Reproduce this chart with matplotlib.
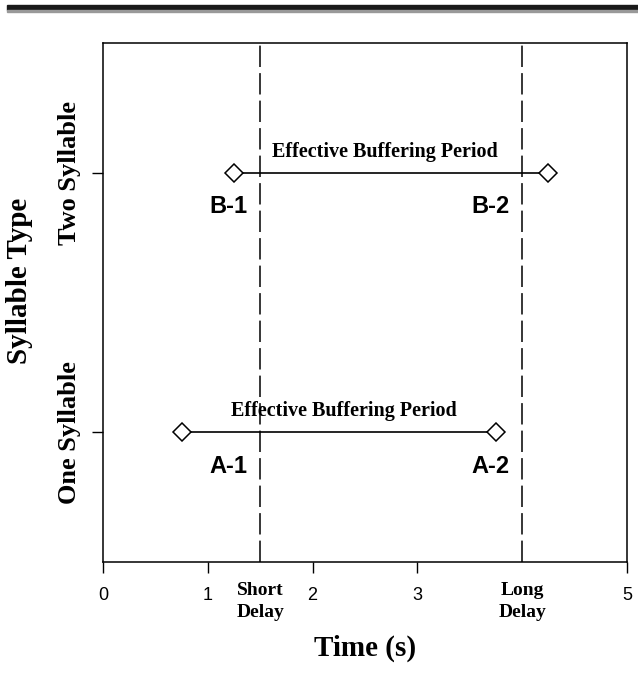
import matplotlib
matplotlib.use("Agg")
import matplotlib.pyplot as plt
from matplotlib.patches import Rectangle

# data
syllable_types = ["One Syllable", "Two Syllable"]
type_pos = [1, 2]
start_times = [0.75, 1.25]   # A-1, B-1
end_times = [3.75, 4.25]     # A-2, B-2
start_labels = ["A-1", "B-1"]
end_labels = ["A-2", "B-2"]
delay_times = [1.5, 4.0]
delay_labels = ["Short\nDelay", "Long\nDelay"]
x_ticks = [0, 1, 2, 3, 5]

serif = "Liberation Serif"
sans = "Liberation Sans"

fig = plt.figure(figsize=(6.38, 6.81), dpi=100)
ax = fig.add_axes([103 / 638, 1 - 562 / 681, 524 / 638, 519 / 681])

# header bar at the top of the page
fig.patches.append(Rectangle((7 / 638, 1 - 10 / 681), 1, 5 / 681, transform=fig.transFigure,
                             color="#1a1a1a", zorder=5))
fig.patches.append(Rectangle((7 / 638, 1 - 11.5 / 681), 1, 1.5 / 681, transform=fig.transFigure,
                             color="#999999", zorder=5))

# text x-positions for each row (A row, B row)
period_text_x = [2.3, 2.69]
for y, x0, x1, l0, l1, tx in zip(type_pos, start_times, end_times, start_labels,
                                 end_labels, period_text_x):
    ax.plot([x0, x1], [y, y], color="black", lw=1.2, marker="D", markersize=9,
            markerfacecolor="white", markeredgecolor="black", markeredgewidth=1.1, zorder=3)
    ax.annotate("Effective Buffering Period", (tx, y), xytext=(0, 11.5),
                textcoords="offset points", ha="center", va="baseline",
                fontsize=14.5, fontweight="bold", family=serif)
    ax.annotate(l0, (1.2, y), xytext=(0, -29), textcoords="offset points",
                ha="center", va="baseline", fontsize=17, fontweight="bold", family=sans)
    ax.annotate(l1, (3.7, y), xytext=(0, -29), textcoords="offset points",
                ha="center", va="baseline", fontsize=17, fontweight="bold", family=sans)

for d, lab in zip(delay_times, delay_labels):
    ax.axvline(d, color="black", lw=1.1, dashes=(14, 4))
    ax.text(d, -0.038, lab, transform=ax.get_xaxis_transform(), ha="center", va="top",
            fontsize=14, fontweight="bold", family=serif, linespacing=1.4)

ax.set_xlim(0, 5)
ax.set_ylim(0.5, 2.5)
ax.set_xticks(x_ticks)
ax.set_xticklabels([str(t) for t in x_ticks], family=sans, fontsize=13)
ax.set_yticks(type_pos)
ax.set_yticklabels(syllable_types, rotation=90, va="center", family=serif,
                   fontweight="bold", fontsize=19)
ax.tick_params(axis="x", direction="out", length=8, width=1, pad=10)
ax.tick_params(axis="y", direction="out", length=8, width=1, pad=8)
for s in ax.spines.values():
    s.set_linewidth(1.1)

ax.set_xlabel("Time (s)", family=serif, fontweight="bold", fontsize=21, labelpad=22)
ax.set_ylabel("Syllable Type", family=serif, fontweight="bold", fontsize=21)
ax.yaxis.set_label_coords(-0.133, 0.541)

fig.savefig("out.png", dpi=100)
